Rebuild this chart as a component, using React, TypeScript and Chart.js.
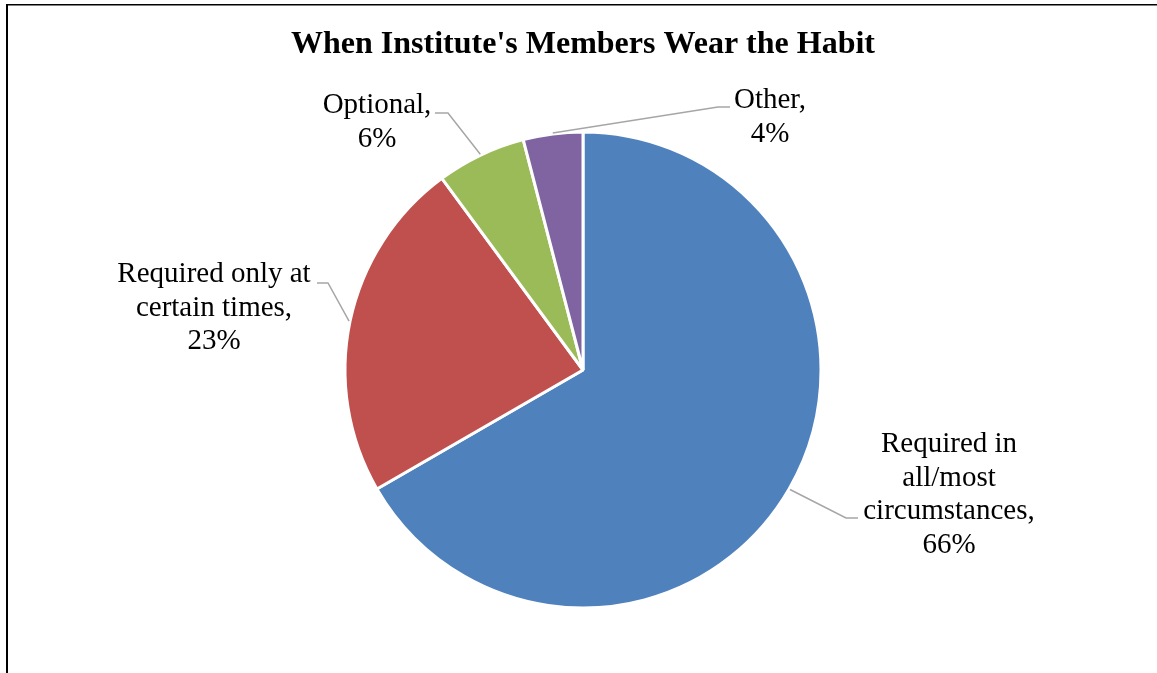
import React, { useEffect, useRef } from "react";
import { Chart, registerables } from "chart.js";

Chart.register(...registerables);

const TITLE = "When Institute's Members Wear the Habit";
const CATEGORIES = [
  "Required in all/most circumstances",
  "Required only at certain times",
  "Optional",
  "Other",
];
const VALUES = [66, 23, 6, 4];
const PERCENT_LABELS = ["66%", "23%", "6%", "4%"];
const LABEL_LINES = [
  ["Required in", "all/most", "circumstances,"],
  ["Required only at", "certain times,"],
  ["Optional,"],
  ["Other,"],
];
const COLORS = ["#4F81BD", "#C0504D", "#9BBB59", "#8064A2"];

// layout of data labels (text centre x, first baseline y, leader elbow, leader end)
const LABEL_LAYOUT = [
  { cx: 949, base: 452, elbow: [846, 518], end: [858, 518] },
  { cx: 214, base: 282, elbow: [328, 283], end: [317, 283] },
  { cx: 377, base: 113, elbow: [448, 113], end: [435, 113] },
  { cx: 770, base: 108, elbow: [718, 107], end: [730, 107] },
];

const W = 1157;
const H = 673;

const overlayPlugin = {
  id: "overlay",
  afterDraw(chart: any) {
    const ctx = chart.ctx;
    ctx.save();
    // frame
    ctx.fillStyle = "#000";
    ctx.fillRect(6, 4, 2, H);
    ctx.fillRect(6, 4, W, 1.5);
    // title
    ctx.font = "bold 32px 'Liberation Serif', 'Times New Roman', serif";
    ctx.textAlign = "center";
    ctx.textBaseline = "alphabetic";
    ctx.fillStyle = "#000";
    ctx.fillText(TITLE, 583, 53);

    const meta = chart.getDatasetMeta(0);
    meta.data.forEach((arc: any, i: number) => {
      const lay = LABEL_LAYOUT[i];
      const mid = (arc.startAngle + arc.endAngle) / 2;
      const r = arc.outerRadius + 1;
      const sx = arc.x + Math.cos(mid) * r;
      const sy = arc.y + Math.sin(mid) * r;
      ctx.strokeStyle = "#A6A6A6";
      ctx.lineWidth = 1.5;
      ctx.beginPath();
      ctx.moveTo(sx, sy);
      ctx.lineTo(lay.elbow[0], lay.elbow[1]);
      ctx.lineTo(lay.end[0], lay.end[1]);
      ctx.stroke();

      const lines = [...LABEL_LINES[i], PERCENT_LABELS[i]];
      ctx.font = "29px 'Liberation Serif', 'Times New Roman', serif";
      ctx.fillStyle = "#000";
      ctx.textAlign = "center";
      lines.forEach((t, k) => {
        ctx.fillText(t, lay.cx, lay.base + k * 33.5);
      });
    });
    ctx.restore();
  },
};

export default function App() {
  const ref = useRef<HTMLCanvasElement | null>(null);
  useEffect(() => {
    if (!ref.current) return;
    const chart = new Chart(ref.current, {
      type: "pie",
      data: {
        labels: CATEGORIES,
        datasets: [
          {
            data: VALUES,
            backgroundColor: COLORS,
            borderColor: "#FFFFFF",
            borderWidth: 3,
          },
        ],
      },
      options: {
        responsive: false,
        animation: false,
        radius: 238,
        layout: { padding: { left: 9, top: 67, right: 0, bottom: 0 } },
        plugins: {
          legend: { display: false },
          tooltip: { enabled: false },
          title: { display: false },
        },
      } as any,
      plugins: [overlayPlugin],
    });
    return () => chart.destroy();
  }, []);
  return (
    <div style={{ position: "fixed", left: 0, top: 0, width: W, height: H, background: "#fff" }}>
      <canvas ref={ref} width={W} height={H} style={{ display: "block", width: W, height: H }} />
    </div>
  );
}
